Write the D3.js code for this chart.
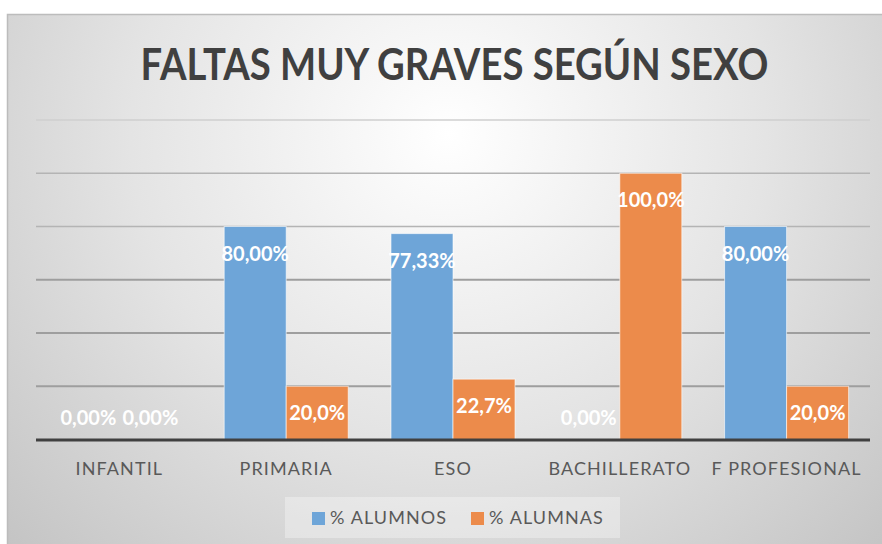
<!DOCTYPE html>
<html><head><meta charset="utf-8">
<script src="https://cdn.jsdelivr.net/npm/d3@7"></script>
<style>html,body{margin:0;padding:0;background:#fff;}svg{display:block;}</style>
</head><body>
<script>
const categories = ["INFANTIL", "PRIMARIA", "ESO", "BACHILLERATO", "F PROFESIONAL"];
const seriesNames = ["% ALUMNOS", "% ALUMNAS"];
const alumnos = [0, 80, 77.33, 0, 80];
const alumnas = [0, 20, 22.67, 100, 20];
const labelsAlumnos = ["0,00%", "80,00%", "77,33%", "0,00%", "80,00%"];
const labelsAlumnas = ["0,00%", "20,0%", "22,7%", "100,0%", "20,0%"];
const yTicks = [0, 20, 40, 60, 80, 100, 120];
const title = "FALTAS MUY GRAVES SEGÚN SEXO";
const colors = ["#6ea5d8", "#ec8b4b"];

(function () {
const W = 882, H = 544;
const svg = d3.select("body").append("svg").attr("width", W).attr("height", H);
const defs = svg.append("defs");
const rg = defs.append("radialGradient").attr("id", "bg")
  .attr("cx", "0.5").attr("cy", "0.22").attr("r", "0.72")
  .attr("gradientTransform", "translate(0.5,0.22) scale(1,1.55) translate(-0.5,-0.22)");
rg.append("stop").attr("offset", "0").attr("stop-color", "#ffffff");
rg.append("stop").attr("offset", "0.5").attr("stop-color", "#e4e4e4");
rg.append("stop").attr("offset", "1").attr("stop-color", "#c2c2c2");

// frame
svg.append("rect").attr("x", 7.5).attr("y", 14.5).attr("width", W).attr("height", H)
  .attr("fill", "url(#bg)").attr("stroke", "#bcbcbc").attr("stroke-width", 1.5);

const pLeft = 36, pRight = 870, pTop = 120, base = 439.5;
const x0 = d3.scaleBand().domain(categories).range([pLeft, pRight]).padding(0);
const x1 = d3.scaleBand().domain(seriesNames).range([0, x0.bandwidth()]).paddingInner(0).paddingOuter(0.345);
const y = d3.scaleLinear().domain([0, 120]).range([base, pTop]);

// gridlines
const gridColor = t => t === 120 ? "#cfcfcf" : (t >= 80 ? "#b4b4b4" : "#9e9e9e");
svg.append("g").selectAll("line").data(yTicks.filter(t => t > 0)).join("line")
  .attr("x1", pLeft).attr("x2", pRight)
  .attr("y1", d => y(d)).attr("y2", d => y(d))
  .attr("stroke", d => gridColor(d)).attr("stroke-width", d => d >= 80 ? 1.5 : 2);

// title
svg.append("text").attr("x", 454.5).attr("y", 80).attr("text-anchor", "middle")
  .attr("font-family", "Lato, sans-serif").attr("font-weight", "bold")
  .attr("font-size", 43).attr("fill", "#404040")
  .attr("textLength", 628).attr("lengthAdjust", "spacingAndGlyphs")
  .text(title);

// bars
const rows = categories.map((c, i) => ({c, vals: [
  {s: seriesNames[0], v: alumnos[i], label: labelsAlumnos[i], k: 0},
  {s: seriesNames[1], v: alumnas[i], label: labelsAlumnas[i], k: 1}]}));

const groups = svg.append("g").selectAll("g").data(rows).join("g")
  .attr("transform", d => `translate(${x0(d.c)},0)`);
groups.selectAll("rect").data(d => d.vals.filter(v => v.v > 0)).join("rect")
  .attr("x", d => x1(d.s)).attr("width", x1.bandwidth())
  .attr("y", d => y(d.v)).attr("height", d => y(0) - y(d.v))
  .attr("fill", d => colors[d.k]).attr("stroke", "#ffffff").attr("stroke-opacity", 0.6).attr("stroke-width", 1);

// baseline axis
svg.append("line").attr("x1", pLeft).attr("x2", pRight).attr("y1", y(0) + 0.5).attr("y2", y(0) + 0.5)
  .attr("stroke", "#404040").attr("stroke-width", 3);

// data labels
groups.selectAll("text").data(d => d.vals).join("text")
  .attr("x", d => x1(d.s) + x1.bandwidth() / 2)
  .attr("y", d => d.v > 0 ? y(d.v) + 26 : y(0) - 23)
  .attr("dominant-baseline", "central").attr("text-anchor", "middle")
  .attr("font-family", "Lato, sans-serif").attr("font-weight", "bold")
  .attr("font-size", 20).attr("fill", "#ffffff")
  .text(d => d.label);

// x axis labels
const xAxis = svg.append("g").attr("transform", `translate(0,${base})`)
  .call(d3.axisBottom(x0).tickSize(0).tickPadding(0));
xAxis.select(".domain").remove();
xAxis.selectAll("text").attr("y", 35).attr("dy", 0)
  .attr("font-family", "Lato, sans-serif").attr("font-size", 18)
  .attr("letter-spacing", 1.1).attr("fill", "#595959");

// legend
const lg = svg.append("g");
lg.append("rect").attr("x", 285).attr("y", 497).attr("width", 335).attr("height", 41)
  .attr("fill", "#ffffff").attr("fill-opacity", 0.32);
const legX = [312, 471];
seriesNames.forEach((s, i) => {
  lg.append("rect").attr("x", legX[i]).attr("y", 512).attr("width", 13).attr("height", 13)
    .attr("fill", colors[i]);
  lg.append("text").attr("x", legX[i] + 18).attr("y", 524)
    .attr("font-family", "Lato, sans-serif").attr("font-size", 18)
    .attr("letter-spacing", 1.1).attr("fill", "#595959").text(s);
});
})();
</script>
</body></html>
